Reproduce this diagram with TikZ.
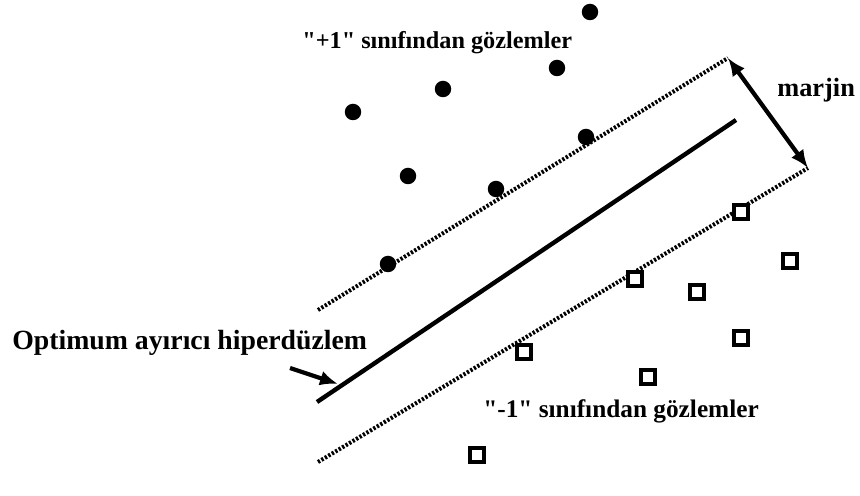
\documentclass[tikz,border=0pt]{standalone}
\usepackage{fontspec}
\setmainfont{Liberation Serif}
\usetikzlibrary{arrows.meta, positioning}

\begin{document}
\begin{tikzpicture}[x=0.02cm, y=-0.02cm,
        posdot/.style={circle, fill=black, inner sep=0pt, minimum size=0.33cm},
        negbox/.style={rectangle, draw=black, line width=2.5pt, fill=white, inner sep=0pt, minimum size=0.28cm},
        marginline/.style={line width=2.3pt, dash pattern=on 1.3pt off 1pt},
        hyperline/.style={line width=2.5pt},
        lbl/.style={font=\fontsize{15}{18}\selectfont\bfseries, inner sep=0pt, anchor=west},
        arrowline/.style={-{Latex[length=0.36cm, width=0.3cm]}, line width=2.4pt}
    ]
        \useasboundingbox (0,0) rectangle (860,496);
        % lines
        \coordinate (ua) at (318,310);
        \coordinate (ub) at (728,58);
        \coordinate (ha) at (317,402);
        \coordinate (hb) at (736,120);
        \coordinate (la) at (318,462);
        \coordinate (lb) at (808,168);
        \draw[marginline] (ua) -- (ub);
        \draw[hyperline] (ha) -- (hb);
        \draw[marginline] (la) -- (lb);
        % +1 class
        \foreach \n/\x/\y in {1/590/12, 2/557/68, 3/443/89, 4/353/112, 5/586/137, 6/408/176, 7/496/189, 8/388/264}
            \node[posdot] (p\n) at (\x,\y) {};
        % -1 class
        \foreach \n/\x/\y in {1/741/212, 2/790/261, 3/635/279, 4/697/292, 5/524/352, 6/741/338, 7/648/377, 8/477/455}
            \node[negbox] (n\n) at (\x,\y) {};
        % labels
        \node[lbl, font=\fontsize{13.8}{17}\selectfont\bfseries] (plus) at (302,43) {\textquotedbl+1\textquotedbl{} sınıfından gözlemler};
        \node[lbl, font=\fontsize{14.4}{17}\selectfont\bfseries] (minus) at (483,411) {\textquotedbl-1\textquotedbl{} sınıfından gözlemler};
        \node[lbl] (marj) at (777,90) {marjin};
        \node[lbl, font=\fontsize{15.8}{19}\selectfont\bfseries] (opt) at (12,343) {Optimum ayırıcı hiperdüzlem};
        \coordinate (hp) at (338,384);
        \draw[arrowline] (290,368) -- (hp);
        \draw[arrowline, {Latex[length=0.36cm, width=0.3cm]}-{Latex[length=0.36cm, width=0.3cm]}] (ub) -- (lb);
    \end{tikzpicture}
\end{document}
